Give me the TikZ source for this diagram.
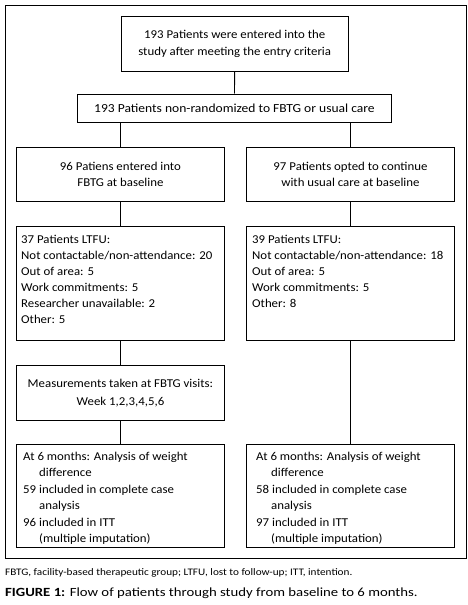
\documentclass[tikz,border=0pt]{standalone}
\usepackage{fontspec}
\setmainfont{Carlito}
\newfontfamily\boxfont[FakeStretch=1.07]{Carlito}
\newfontfamily\wideboxfont[FakeStretch=1.1]{Carlito}
\newfontfamily\capfont[FakeStretch=1.12]{Carlito}
\newfontfamily\figfont[FakeStretch=1.18]{Carlito}
\begin{document}
\begin{tikzpicture}[x=1pt,y=-1pt,
  box/.style={draw=black, line width=0.9pt, inner sep=0pt, anchor=north west},
  btext/.style={font=\boxfont\fontsize{12}{16.2}\selectfont, align=center, inner sep=0pt},
  ltext/.style={font=\boxfont\fontsize{12}{16.2}\selectfont, align=left, inner sep=0pt, anchor=north west},
  conn/.style={draw=black, line width=0.9pt}]
\useasboundingbox (0,0) rectangle (468,605);
\fill[white] (0,0) rectangle (468,605);
\node[box, minimum width=461, minimum height=553] (frame) at (5,5) {};
% boxes
\node[box, minimum width=226.5, minimum height=55] (b1) at (121,16) {};
\node[btext] (t1) at (b1.center) {193 Patients were entered into the\\study after meeting the entry criteria};
\node[box, minimum width=314, minimum height=28.5] (b2) at (77,93.5) {};
\node[btext, font=\wideboxfont\fontsize{12.3}{16.2}\selectfont] (t2) at (b2.center) {193 Patients non-randomized to FBTG or usual care};
\node[box, minimum width=208, minimum height=54] (b3l) at (16,147) {};
\node[btext] (t3l) at (b3l.center) {96 Patiens entered into\\FBTG at baseline};
\node[box, minimum width=208, minimum height=54] (b3r) at (246,147) {};
\node[btext] (t3r) at (b3r.center) {97 Patients opted to continue\\with usual care at baseline};
\node[box, minimum width=208, minimum height=114] (b4l) at (16,226) {};
\node[ltext, font=\boxfont\fontsize{12}{15.9}\selectfont] (t4l) at (21,235) {37 Patients LTFU:\\Not contactable/non-attendance: 20\\Out of area: 5\\Work commitments: 5\\Researcher unavailable: 2\\Other: 5};
\node[box, minimum width=208, minimum height=114] (b4r) at (246,226) {};
\node[ltext, font=\boxfont\fontsize{12}{15.9}\selectfont] (t4r) at (252,235) {39 Patients LTFU:\\Not contactable/non-attendance: 18\\Out of area: 5\\Work commitments: 5\\Other: 8};
\node[box, minimum width=208, minimum height=55] (b5l) at (16,365) {};
\node[btext, font=\boxfont\fontsize{12}{17.5}\selectfont] (t5l) at (b5l.center) {Measurements taken at FBTG visits:\\Week 1,2,3,4,5,6};
\node[box, minimum width=208, minimum height=103] (b6l) at (16,444) {};
\node[ltext, font=\boxfont\fontsize{12}{16.4}\selectfont] (t6l) at (23,452) {At 6 months: Analysis of weight\\\hspace*{16pt}difference\\59 included in complete case\\\hspace*{16pt}analysis\\96 included in ITT\\\hspace*{16pt}(multiple imputation)};
\node[box, minimum width=208, minimum height=103] (b6r) at (246,444) {};
\node[ltext, font=\boxfont\fontsize{12}{16.4}\selectfont] (t6r) at (256,452) {At 6 months: Analysis of weight\\\hspace*{15pt}difference\\58 included in complete case\\\hspace*{15pt}analysis\\97 included in ITT\\\hspace*{15pt}(multiple imputation)};
% connectors
\draw[conn] (b1.south) -- (b2.north);
\draw[conn] (b3l.north) -- (b3l.north |- b2.south);
\draw[conn] (b3r.north) -- (b3r.north |- b2.south);
\draw[conn] (b3l.south) -- (b4l.north);
\draw[conn] (b3r.south) -- (b4r.north);
\draw[conn] (b4l.south) -- (b5l.north);
\draw[conn] (b5l.south) -- (b6l.north);
\draw[conn] (b4r.south) -- (b6r.north);
% captions
\node[anchor=base west, inner sep=0pt, font=\capfont\fontsize{10}{11}\selectfont] (cap1) at (5,575.5) {FBTG, facility-based therapeutic group; LTFU, lost to follow-up; ITT, intention.};
\node[anchor=base west, inner sep=0pt, font=\figfont\fontsize{12.5}{14}\selectfont] (cap2) at (5,596) {\textbf{FIGURE 1:} Flow of patients through study from baseline to 6 months.};
\end{tikzpicture}
\end{document}
